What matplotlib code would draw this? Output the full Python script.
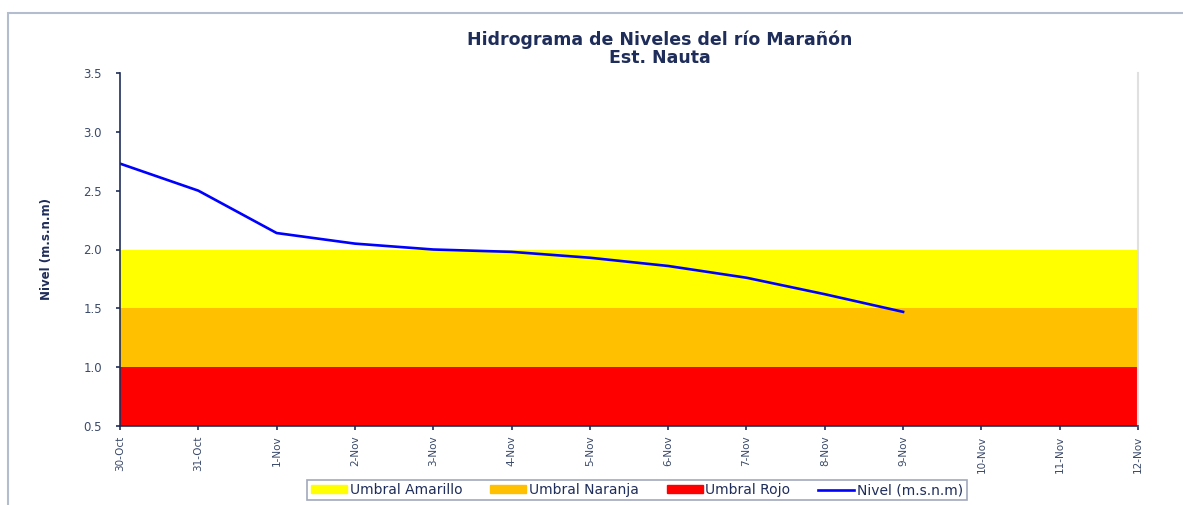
import matplotlib.pyplot as plt
from matplotlib.patches import Rectangle, Patch
from matplotlib.lines import Line2D
import numpy as np

# datos
fechas = ["30-Oct", "31-Oct", "1-Nov", "2-Nov", "3-Nov", "4-Nov", "5-Nov",
          "6-Nov", "7-Nov", "8-Nov", "9-Nov", "10-Nov", "11-Nov", "12-Nov"]
nivel = [2.73, 2.50, 2.14, 2.05, 2.00, 1.98, 1.93, 1.86, 1.76, 1.62, 1.47]
umbral_rojo = [0.5, 1.0]
umbral_naranja = [1.0, 1.5]
umbral_amarillo = [1.5, 2.0]

texto = "#3B4A6B"
plt.rcParams['font.family'] = ['DejaVu Sans']

fig = plt.figure(figsize=(11.83, 5.05), dpi=100)
ax = fig.add_axes([120/1183, 1-426/505, (1138-120)/1183, (426-73)/505])

x = np.arange(len(fechas))
ax.fill_between([x[0], x[-1]], umbral_amarillo[0], umbral_amarillo[1], color="#FFFF00", lw=0)
ax.fill_between([x[0], x[-1]], umbral_naranja[0], umbral_naranja[1], color="#FFC000", lw=0)
ax.fill_between([x[0], x[-1]], umbral_rojo[0], umbral_rojo[1], color="#FF0000", lw=0)
ax.plot(x[:len(nivel)], nivel, color="#0000FF", lw=1.9, solid_joinstyle="round")

ax.set_xlim(x[0], x[-1])
ax.set_ylim(0.5, 3.5)
ax.set_yticks(np.arange(0.5, 3.51, 0.5))
ax.set_yticklabels([f"{v:.1f}" for v in np.arange(0.5, 3.51, 0.5)])
ax.set_xticks(x)
ax.set_xticklabels(fechas, rotation=90)
ax.tick_params(axis="both", colors="#1F2D5A", labelcolor=texto, length=3, width=1.2)
ax.tick_params(axis="y", labelsize=8.5, pad=10)
ax.tick_params(axis="x", labelsize=7.5, pad=4)
ax.spines["top"].set_visible(False)
ax.spines["right"].set_color("#E0E0E0")
ax.spines["right"].set_linewidth(1.5)
ax.spines["left"].set_color("#1F2D5A")
ax.spines["bottom"].set_color("#1F2D5A")
ax.spines["left"].set_linewidth(1.2)
ax.spines["bottom"].set_linewidth(1.2)

ax.set_ylabel("Nivel (m.s.n.m)", fontsize=8.5, fontweight="bold", color="#1F2D5A", labelpad=22)

fig.text(660/1183, 1-49/505, "Hidrograma de Niveles del río Marañón\nEst. Nauta",
         ha="center", va="center", fontsize=12.5, fontweight="bold", color="#1F2D5A",
         linespacing=1.0)

handles = [Patch(color="#FFFF00"), Patch(color="#FFC000"), Patch(color="#FF0000"),
           Line2D([], [], color="#0000FF", lw=1.9)]
labels = ["Umbral Amarillo", "Umbral Naranja", "Umbral Rojo", "Nivel (m.s.n.m)"]
leg = fig.legend(handles, labels, loc="center", bbox_to_anchor=(637/1183, 1-490/505),
                 ncol=4, frameon=True, fancybox=False, fontsize=10, handlelength=2.6,
                 handleheight=0.5, handletextpad=0.2, columnspacing=2.0,
                 borderpad=0.25, labelcolor="#1F2D5A")
leg.get_frame().set_edgecolor("#8A93AA")
leg.get_frame().set_linewidth(1.2)

fig.patches.append(Rectangle((8/1183, -0.01), 1.0, 1-13/505 + 0.01, transform=fig.transFigure,
                             fill=False, edgecolor="#B4BCD0", lw=1.5))

fig.savefig("out.png", dpi=100)
